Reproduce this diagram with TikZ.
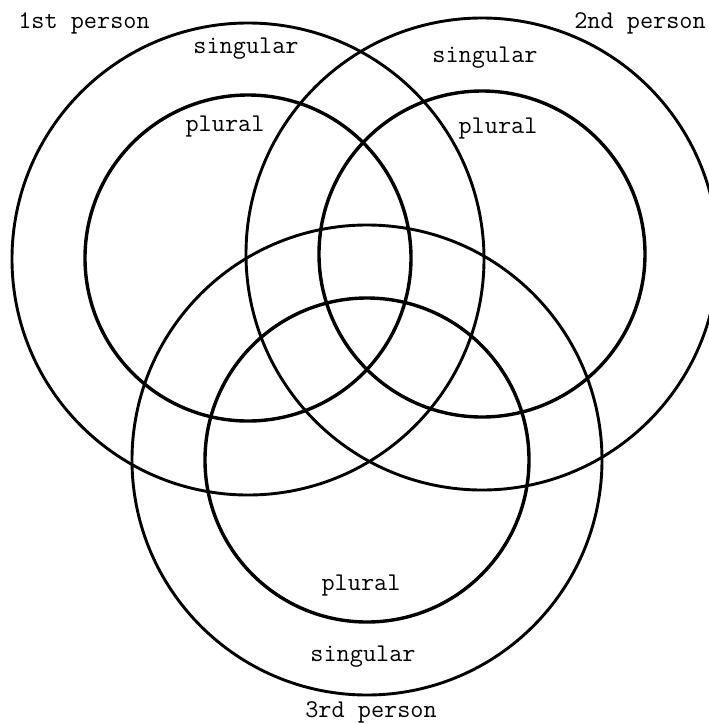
\documentclass[tikz,border=0pt]{standalone}
\begin{document}
\begin{tikzpicture}[x=1pt,y=-1pt,
  outer/.style={draw=black,line width=2.9pt},
  inner/.style={draw=black,line width=3.4pt},
  lbl/.style={anchor=base,inner sep=0pt,font=\fontsize{25.5}{30}\selectfont\ttfamily}]
\useasboundingbox (0,0) rectangle (709,724);
\clip (0,0) rectangle (709,724);
% 1st person
\draw[outer] (248,259) circle (236);
\draw[inner] (248,258) circle (163);
% 2nd person
\draw[outer] (482,254) circle (236);
\draw[inner] (482,254) circle (163);
% 3rd person
\draw[outer] (367,460) circle (235);
\draw[inner] (367,460) circle (162);
% labels
\node[lbl] (p1) at (84,28) {1st person};
\node[lbl] (s1) at (246,53) {singular};
\node[lbl] (pl1) at (225,131) {plural};
\node[lbl] (p2) at (640,28) {2nd person};
\node[lbl] (s2) at (485,62) {singular};
\node[lbl] (pl2) at (498,133) {plural};
\node[lbl] (pl3) at (361,590) {plural};
\node[lbl] (s3) at (363,661) {singular};
\node[lbl] (p3) at (371,717) {3rd person};
\end{tikzpicture}
\end{document}
